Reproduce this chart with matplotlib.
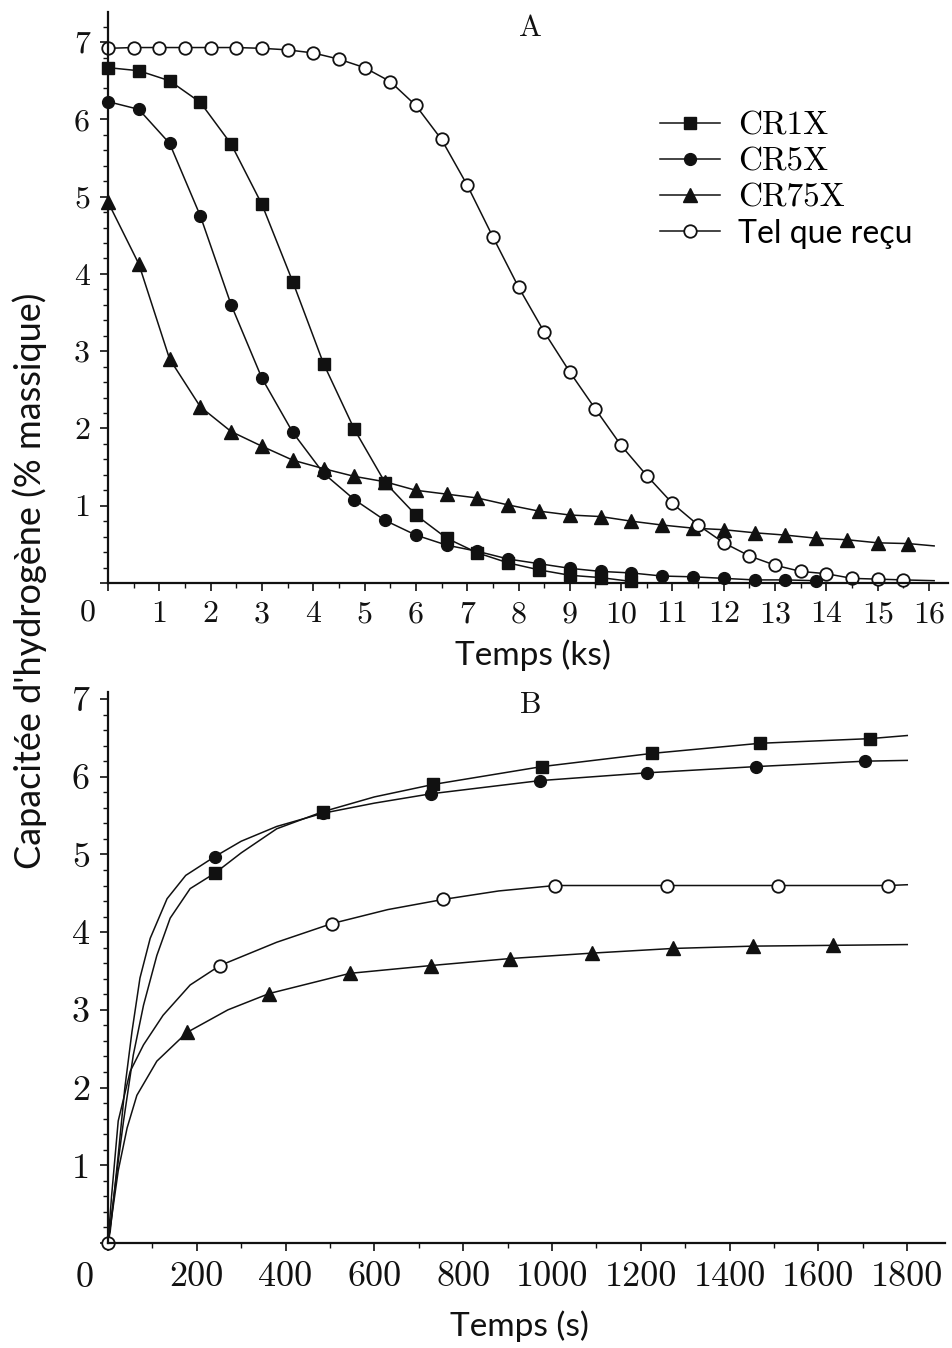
import matplotlib.pyplot as plt
from matplotlib.ticker import MultipleLocator, FuncFormatter

plt.rcParams['font.family'] = ['cmr10', 'DejaVu Serif']
plt.rcParams['axes.unicode_minus'] = False

# ---- panel A : desorption, time in ks ----
t_a6 = [0.0, 0.6, 1.2, 1.8, 2.4, 3.0, 3.6, 4.2, 4.8, 5.4, 6.0, 6.6, 7.2, 7.8,
        8.4, 9.0, 9.6, 10.2, 10.8, 11.4, 12.0, 12.6, 13.2, 13.8, 14.4, 15.0,
        15.6, 16.1]
cr1x_a = [6.67, 6.63, 6.50, 6.22, 5.68, 4.90, 3.90, 2.84, 1.99, 1.30, 0.88,
          0.58, 0.39, 0.26, 0.17, 0.10, 0.07, 0.02]
cr5x_a = [6.23, 6.13, 5.69, 4.75, 3.60, 2.65, 1.95, 1.42, 1.08, 0.81, 0.62,
          0.49, 0.41, 0.31, 0.25, 0.19, 0.15, 0.13, 0.09, 0.08, 0.06, 0.04,
          0.04, 0.03]
cr75x_a = [4.93, 4.13, 2.90, 2.28, 1.96, 1.77, 1.59, 1.48, 1.38, 1.31, 1.20,
           1.15, 1.10, 1.01, 0.93, 0.88, 0.86, 0.80, 0.75, 0.71, 0.69, 0.65,
           0.62, 0.58, 0.56, 0.52, 0.51, 0.48]
t_a5 = [0.0, 0.5, 1.0, 1.5, 2.0, 2.5, 3.0, 3.5, 4.0, 4.5, 5.0, 5.5, 6.0, 6.5,
        7.0, 7.5, 8.0, 8.5, 9.0, 9.5, 10.0, 10.5, 11.0, 11.5, 12.0, 12.5,
        13.0, 13.5, 14.0, 14.5, 15.0, 15.5, 16.1]
tel_a = [6.92, 6.93, 6.93, 6.93, 6.93, 6.93, 6.92, 6.90, 6.86, 6.78, 6.67,
         6.49, 6.18, 5.74, 5.15, 4.48, 3.83, 3.25, 2.73, 2.25, 1.78, 1.39,
         1.03, 0.75, 0.52, 0.35, 0.23, 0.15, 0.12, 0.06, 0.05, 0.04, 0.03]

# ---- panel B : absorption, time in s ----
cr1x_b_t = [0, 10, 23, 35, 57, 80, 110, 140, 185, 241, 300, 380, 484, 600,
            732, 977, 1225, 1468, 1716, 1800]
cr1x_b = [0, 0.45, 1.05, 1.57, 2.42, 3.06, 3.70, 4.18, 4.56, 4.76, 5.02,
          5.33, 5.55, 5.74, 5.90, 6.13, 6.30, 6.43, 6.49, 6.53]
cr1x_b_mk = [9, 12, 14, 15, 16, 17, 18]

cr5x_b_t = [0, 5, 23, 38, 54, 72, 95, 133, 175, 240, 300, 380, 484, 600,
            727, 973, 1214, 1459, 1705, 1800]
cr5x_b = [0, 0.15, 1.13, 2.00, 2.72, 3.41, 3.92, 4.43, 4.73, 4.97, 5.17,
          5.36, 5.53, 5.66, 5.78, 5.95, 6.05, 6.13, 6.20, 6.21]
cr5x_b_mk = [9, 12, 14, 15, 16, 17, 18]

cr75x_b_t = [0, 10, 23, 43, 65, 110, 178, 270, 363, 545, 727, 905, 1090,
             1272, 1453, 1633, 1800]
cr75x_b = [0, 0.40, 0.93, 1.48, 1.90, 2.34, 2.71, 3.00, 3.21, 3.47, 3.57,
           3.66, 3.73, 3.79, 3.82, 3.83, 3.84]
cr75x_b_mk = [6, 8, 9, 10, 11, 12, 13, 14, 15]

tel_b_t = [0, 8, 23, 50, 80, 124, 185, 252, 380, 504, 630, 754, 880, 1007,
           1259, 1509, 1757, 1800]
tel_b = [0, 0.60, 1.57, 2.21, 2.55, 2.93, 3.32, 3.57, 3.87, 4.11, 4.29,
         4.42, 4.53, 4.60, 4.60, 4.60, 4.60, 4.61]
tel_b_mk = [0, 7, 9, 11, 13, 14, 15, 16]

labels = ['CR1X', 'CR5X', 'CR75X', 'Tel que reçu']

W, H = 953, 1348
fig = plt.figure(figsize=(W / 100, H / 100), dpi=100)
axA = fig.add_axes([108 / W, 1 - 583 / H, (948 - 108) / W, (583 - 12) / H])
axB = fig.add_axes([108 / W, 1 - 1243 / H, (945 - 108) / W, (1243 - 692) / H])

k = '#111111'
sq = dict(color=k, lw=1.1, marker='s', ms=9, mfc=k, mec=k, clip_on=False)
ci = dict(color=k, lw=1.1, marker='o', ms=8.5, mfc=k, mec=k, clip_on=False)
tr = dict(color=k, lw=1.1, marker='^', ms=10, mfc=k, mec=k, clip_on=False)
op = dict(color=k, lw=1.1, marker='o', ms=9, mfc='white', mec=k, mew=1.3,
          clip_on=False)

h1, = axA.plot(t_a6[:len(cr1x_a)], cr1x_a, **sq)
h2, = axA.plot(t_a6[:len(cr5x_a)], cr5x_a, **ci)
h3, = axA.plot(t_a6, cr75x_a, markevery=slice(0, -1), **tr)
h4, = axA.plot(t_a5, tel_a, markevery=slice(0, -1), **op)

axB.plot(cr1x_b_t, cr1x_b, markevery=cr1x_b_mk, **sq)
axB.plot(cr5x_b_t, cr5x_b, markevery=cr5x_b_mk, **ci)
axB.plot(cr75x_b_t, cr75x_b, markevery=cr75x_b_mk, **tr)
axB.plot(tel_b_t, tel_b, markevery=tel_b_mk, **op)

axA.set_xlim(0, 16.37)
axA.set_ylim(0, 7.39)
axB.set_xlim(0, 1885)
axB.set_ylim(0, 7.09)

axA.xaxis.set_major_locator(MultipleLocator(1))
axA.xaxis.set_minor_locator(MultipleLocator(0.5))
axB.xaxis.set_major_locator(MultipleLocator(200))
axB.xaxis.set_minor_locator(MultipleLocator(100))
nozero = FuncFormatter(lambda v, p: '' if abs(v) < 1e-9 else f'{v:g}')

for ax, fs in [(axA, 23), (axB, 26)]:
    ax.yaxis.set_major_locator(MultipleLocator(1))
    ax.yaxis.set_minor_locator(MultipleLocator(0.2))
    ax.xaxis.set_major_formatter(nozero)
    ax.yaxis.set_major_formatter(nozero)
    for s in ['top', 'right']:
        ax.spines[s].set_visible(False)
    for s in ['left', 'bottom']:
        ax.spines[s].set_linewidth(1.6)
        ax.spines[s].set_color(k)
    ax.tick_params(which='major', direction='out', length=6, width=1.2,
                   labelsize=fs, pad=7, colors=k)
    ax.tick_params(which='minor', direction='out', length=3.5, width=1.0,
                   colors=k)

fig.text(88 / W, 1 - 613 / H, '0', ha='center', va='center', fontsize=23,
         color=k)
fig.text(85 / W, 1 - 1278 / H, '0', ha='center', va='center', fontsize=26,
         color=k)

fig.text(530 / W, 1 - 28 / H, 'A', ha='center', va='center', fontsize=22,
         color=k)
fig.text(531 / W, 1 - 705 / H, 'B', ha='center', va='center', fontsize=22,
         color=k)

sans = ['Lato', 'DejaVu Sans']
fig.text(533 / W, 1 - 655 / H, 'Temps (ks)', ha='center', va='center',
         fontsize=24, family=sans, color=k)
fig.text(519 / W, 1 - 1326 / H, 'Temps (s)', ha='center', va='center',
         fontsize=24, family=sans, color=k)
fig.text(30 / W, 1 - 581 / H, "Capacitée d'hydrogène (% massique)",
         rotation=90, ha='center', va='center', fontsize=26, family=sans,
         color=k)

leg = axA.legend([h1, h2, h3, h4], labels, loc='upper left',
                 bbox_to_anchor=(660 / W, 1 - 111 / H),
                 bbox_transform=fig.transFigure, frameon=False, fontsize=24,
                 handlelength=1.8, handletextpad=0.55, labelspacing=0.2,
                 borderpad=0, borderaxespad=0)
leg.get_texts()[3].set_fontfamily(sans)
leg.get_texts()[3].set_fontsize(23)

fig.savefig('out.png', dpi=100)
